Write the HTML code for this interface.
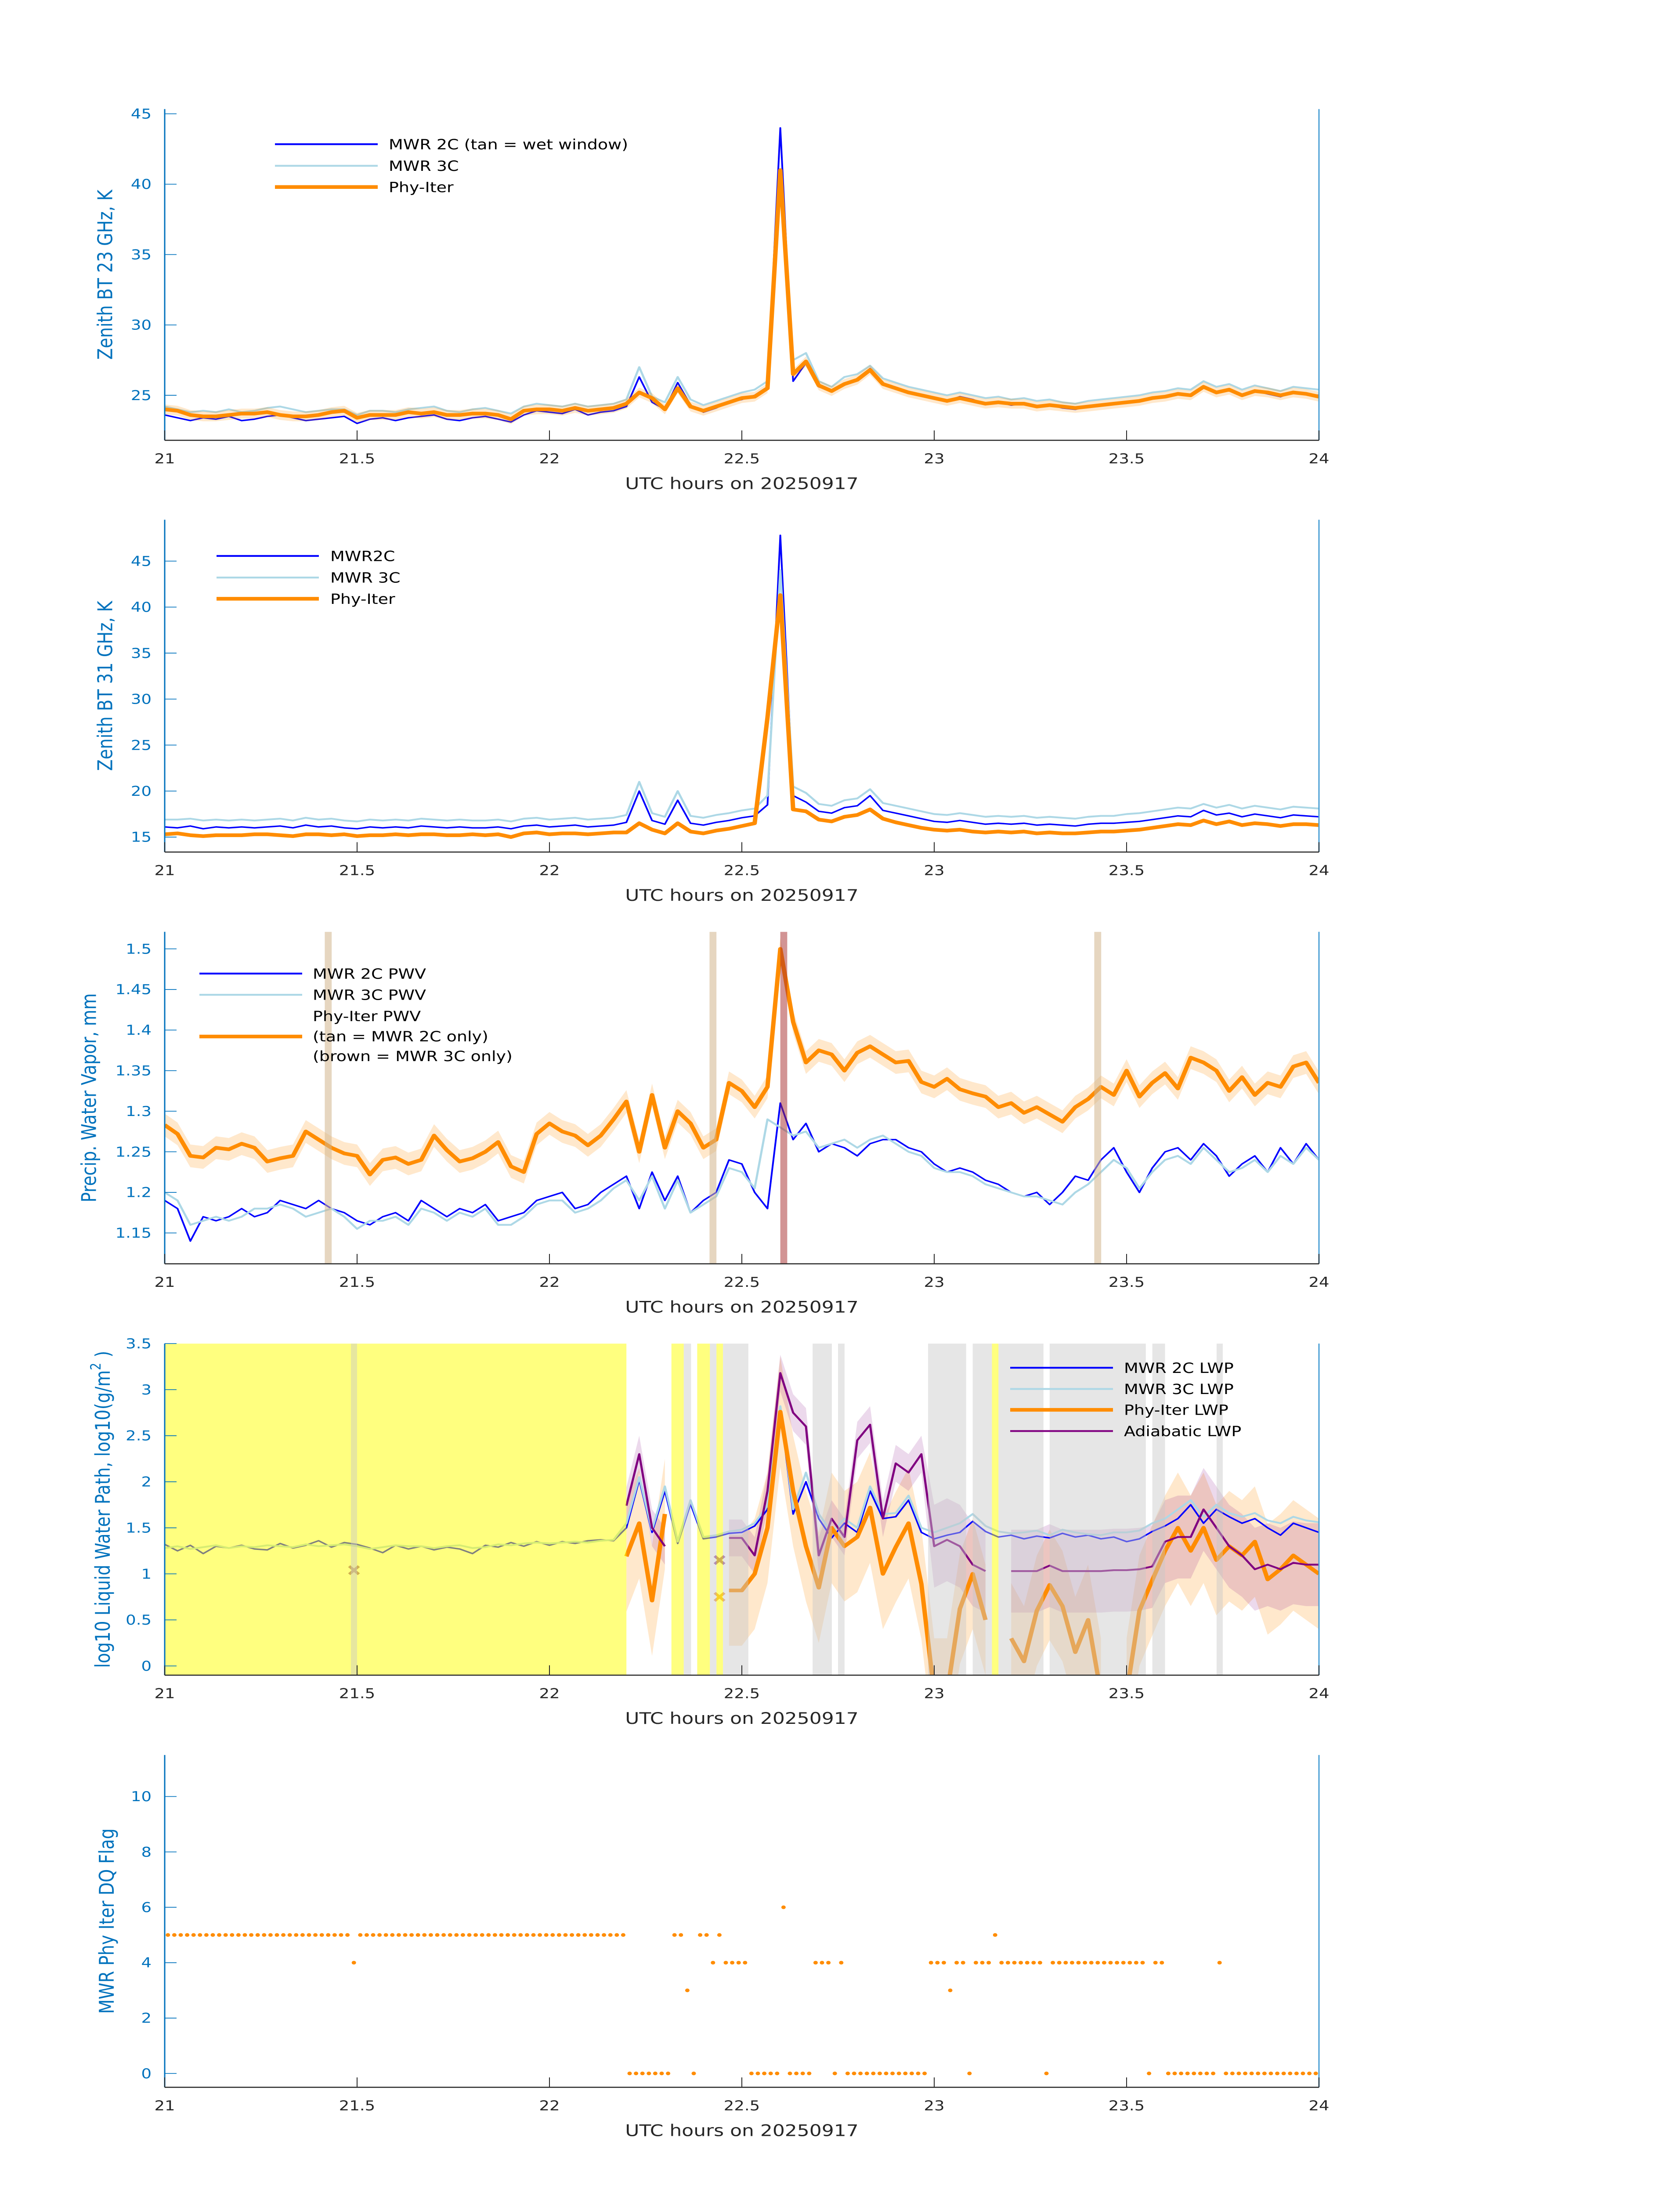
<!DOCTYPE html>
<html><head><meta charset="utf-8"><title>MWR retrievals 20250917</title>
<style>html,body{margin:0;padding:0;background:#fff;overflow:hidden}svg{display:block;width:100vw;height:100vh;font-family:"DejaVu Sans","Liberation Sans",sans-serif}</style>
</head><body>
<svg id="fig" xmlns="http://www.w3.org/2000/svg" viewBox="0 0 3825 6000" preserveAspectRatio="none">
<rect x="0" y="0" width="3825" height="6000" fill="#fff"/>
</svg>
<script>
// ---------- data (2-min samples from 21.0 to 24.0 UTC) ----------
const N_SAMPLES = 91;
const xTicks = [21, 21.5, 22, 22.5, 23, 23.5, 24];
const xTickLabels = ["21", "21.5", "22", "22.5", "23", "23.5", "24"];

const bt23_2c = [23.6,23.4,23.2,23.4,23.3,23.5,23.2,23.3,23.5,23.6,23.4,23.2,23.3,23.4,23.5,
23.0,23.3,23.4,23.2,23.4,23.5,23.6,23.3,23.2,23.4,23.5,23.3,23.1,23.6,23.9,
23.8,23.7,24.0,23.6,23.8,23.9,24.2,26.3,24.5,24.0,25.9,24.3,23.8,24.1,24.5,
24.7,25.0,25.6,44.0,26.0,27.3,25.6,25.3,25.8,26.1,26.9,25.8,25.5,25.2,25.0,
24.8,24.6,24.9,24.7,24.4,24.5,24.3,24.4,24.2,24.3,24.1,24.0,24.2,24.3,24.4,
24.5,24.6,24.8,24.9,25.1,25.0,25.6,25.2,25.4,25.0,25.3,25.1,24.9,25.2,25.1,25.0];
const bt23_3c = [24.2,24.0,23.8,23.9,23.8,24.0,23.8,23.9,24.1,24.2,24.0,23.8,23.9,24.0,24.0,
23.6,23.9,23.9,23.8,24.0,24.1,24.2,23.9,23.8,24.0,24.1,23.9,23.7,24.2,24.4,
24.3,24.2,24.4,24.2,24.3,24.4,24.7,27.0,24.9,24.5,26.3,24.7,24.3,24.6,24.9,
25.2,25.4,26.0,40.0,27.5,28.0,26.0,25.6,26.3,26.5,27.1,26.2,25.9,25.6,25.4,
25.2,25.0,25.2,25.0,24.8,24.9,24.7,24.8,24.6,24.7,24.5,24.4,24.6,24.7,24.8,
24.9,25.0,25.2,25.3,25.5,25.4,26.0,25.6,25.8,25.4,25.7,25.5,25.3,25.6,25.5,25.4];
const bt23_phy = [24.0,23.9,23.6,23.5,23.5,23.6,23.7,23.7,23.8,23.6,23.5,23.5,23.6,23.8,23.9,
23.4,23.6,23.6,23.6,23.8,23.7,23.8,23.6,23.6,23.7,23.7,23.6,23.3,23.9,24.0,
24.0,23.9,24.1,23.9,24.0,24.1,24.4,25.2,24.8,24.0,25.5,24.2,23.9,24.2,24.5,
24.8,24.9,25.5,41.0,26.5,27.4,25.7,25.3,25.8,26.1,26.8,25.8,25.5,25.2,25.0,
24.8,24.6,24.8,24.6,24.4,24.5,24.4,24.4,24.2,24.3,24.2,24.1,24.2,24.3,24.4,
24.5,24.6,24.8,24.9,25.1,25.0,25.6,25.2,25.4,25.0,25.3,25.2,25.0,25.2,25.1,24.9];

const bt31_2c = [16.1,16.0,16.2,15.9,16.1,16.0,16.1,16.0,16.1,16.2,16.0,16.3,16.1,16.2,16.0,
15.9,16.1,16.0,16.1,16.0,16.2,16.1,16.0,16.1,16.0,16.0,16.1,15.9,16.2,16.3,
16.1,16.2,16.3,16.1,16.2,16.3,16.6,20.0,16.8,16.4,19.0,16.5,16.3,16.6,16.8,
17.1,17.3,18.5,47.8,19.5,18.8,17.8,17.6,18.2,18.4,19.5,17.9,17.6,17.3,17.0,
16.7,16.6,16.8,16.6,16.4,16.5,16.4,16.5,16.3,16.4,16.3,16.2,16.4,16.5,16.5,
16.6,16.7,16.9,17.1,17.3,17.2,17.9,17.4,17.6,17.2,17.5,17.3,17.1,17.4,17.3,17.2];
const bt31_3c = [16.9,16.9,17.0,16.8,16.9,16.8,16.9,16.8,16.9,17.0,16.8,17.1,16.9,17.0,16.8,
16.7,16.9,16.8,16.9,16.8,17.0,16.9,16.8,16.9,16.8,16.8,16.9,16.7,17.0,17.1,
16.9,17.0,17.1,16.9,17.0,17.1,17.4,21.0,17.6,17.2,20.0,17.3,17.1,17.4,17.6,
17.9,18.1,19.5,44.0,20.5,19.8,18.6,18.4,19.0,19.2,20.2,18.7,18.4,18.1,17.8,
17.5,17.4,17.6,17.4,17.2,17.3,17.2,17.3,17.1,17.2,17.1,17.0,17.2,17.3,17.3,
17.5,17.6,17.8,18.0,18.2,18.1,18.6,18.2,18.5,18.1,18.4,18.2,18.0,18.3,18.2,18.1];
const bt31_phy = [15.3,15.4,15.2,15.1,15.2,15.2,15.2,15.3,15.3,15.2,15.1,15.3,15.3,15.2,15.3,
15.1,15.2,15.2,15.3,15.2,15.3,15.3,15.2,15.2,15.3,15.2,15.3,15.0,15.4,15.5,
15.3,15.4,15.4,15.3,15.4,15.5,15.5,16.5,15.8,15.4,16.5,15.6,15.4,15.7,15.9,
16.2,16.5,28.0,41.3,18.0,17.8,16.9,16.7,17.2,17.4,18.0,17.0,16.6,16.3,16.0,
15.8,15.7,15.8,15.6,15.5,15.6,15.5,15.6,15.4,15.5,15.4,15.4,15.5,15.6,15.6,
15.7,15.8,16.0,16.2,16.4,16.3,16.8,16.4,16.7,16.3,16.5,16.4,16.2,16.4,16.4,16.3];

const pwv_2c = [1.19,1.18,1.14,1.17,1.165,1.17,1.18,1.17,1.175,1.19,1.185,1.18,1.19,1.18,1.175,
1.165,1.16,1.17,1.175,1.165,1.19,1.18,1.17,1.18,1.175,1.185,1.165,1.17,1.175,1.19,
1.195,1.2,1.18,1.185,1.2,1.21,1.22,1.18,1.225,1.19,1.22,1.175,1.19,1.2,1.24,
1.235,1.2,1.18,1.31,1.265,1.285,1.25,1.26,1.255,1.245,1.26,1.265,1.265,1.255,1.25,
1.235,1.225,1.23,1.225,1.215,1.21,1.2,1.195,1.2,1.185,1.2,1.22,1.215,1.24,1.255,
1.225,1.2,1.23,1.25,1.255,1.24,1.26,1.245,1.22,1.235,1.245,1.225,1.255,1.235,1.26,1.24];
const pwv_3c = [1.2,1.19,1.16,1.165,1.17,1.165,1.17,1.18,1.18,1.185,1.18,1.17,1.175,1.18,1.17,
1.155,1.165,1.165,1.17,1.16,1.18,1.175,1.165,1.175,1.17,1.18,1.16,1.16,1.17,1.185,
1.19,1.19,1.175,1.18,1.19,1.205,1.215,1.19,1.22,1.18,1.215,1.175,1.185,1.195,1.23,
1.225,1.205,1.29,1.28,1.27,1.275,1.255,1.26,1.265,1.255,1.265,1.27,1.26,1.25,1.245,
1.23,1.225,1.225,1.22,1.21,1.205,1.2,1.195,1.195,1.19,1.185,1.2,1.21,1.225,1.24,
1.23,1.205,1.225,1.24,1.245,1.235,1.255,1.24,1.225,1.23,1.24,1.225,1.245,1.235,1.255,1.24];
const pwv_phy = [1.283,1.272,1.245,1.243,1.255,1.253,1.26,1.255,1.238,1.242,1.245,1.275,1.265,1.255,1.248,
1.245,1.222,1.24,1.243,1.235,1.24,1.27,1.252,1.238,1.242,1.25,1.262,1.232,1.225,1.272,
1.285,1.275,1.27,1.258,1.27,1.29,1.312,1.25,1.32,1.255,1.3,1.285,1.255,1.265,1.335,
1.325,1.305,1.33,1.5,1.41,1.36,1.375,1.37,1.35,1.372,1.38,1.37,1.36,1.362,1.336,
1.33,1.34,1.327,1.322,1.318,1.305,1.31,1.298,1.305,1.296,1.287,1.305,1.315,1.33,1.32,
1.35,1.318,1.335,1.347,1.328,1.366,1.36,1.35,1.325,1.342,1.32,1.335,1.33,1.355,1.36,1.335];
const pwvTanHours = [21.425, 22.425, 23.425];
const pwvBrownHours = [22.609];

const lwp_2c = [1.32,1.25,1.31,1.22,1.3,1.28,1.31,1.27,1.26,1.33,1.28,1.31,1.36,1.29,1.34,
1.32,1.28,1.23,1.31,1.27,1.30,1.26,1.29,1.27,1.22,1.31,1.29,1.34,1.30,1.35,
1.31,1.35,1.33,1.36,1.37,1.36,1.50,2.02,1.45,1.90,1.33,1.76,1.38,1.40,1.44,
1.45,1.52,1.70,2.79,1.65,2.0,1.60,1.39,1.55,1.45,1.90,1.60,1.62,1.80,1.45,
1.38,1.42,1.45,1.57,1.46,1.40,1.42,1.38,1.41,1.39,1.44,1.40,1.42,1.38,1.40,
1.35,1.38,1.46,1.52,1.60,1.75,1.55,1.70,1.62,1.55,1.60,1.50,1.42,1.55,1.50,1.45];
const lwp_3c = [1.28,1.30,1.27,1.29,1.31,1.28,1.30,1.29,1.31,1.30,1.29,1.32,1.30,1.31,1.32,
1.30,1.27,1.29,1.31,1.30,1.30,1.28,1.30,1.31,1.28,1.29,1.32,1.31,1.33,1.34,
1.33,1.34,1.35,1.34,1.36,1.37,1.55,2.05,1.48,1.95,1.35,1.80,1.40,1.42,1.46,
1.48,1.55,1.74,2.82,1.70,2.10,1.65,1.45,1.60,1.50,1.95,1.65,1.66,1.85,1.50,
1.45,1.50,1.55,1.65,1.52,1.46,1.44,1.45,1.47,1.42,1.48,1.45,1.43,1.42,1.45,
1.45,1.47,1.55,1.60,1.70,1.80,1.62,1.75,1.66,1.62,1.66,1.58,1.55,1.62,1.58,1.56];
const lwp_phy = [null,null,null,null,null,null,null,null,null,null,null,null,null,null,null,
null,null,null,null,null,null,null,null,null,null,null,null,null,null,null,
null,null,null,null,null,null,1.19,1.55,0.71,1.65,null,1.25,null,null,0.82,
0.82,1.0,1.5,2.76,1.9,1.3,0.85,1.5,1.3,1.4,1.72,1.0,1.29,1.55,0.89,
-0.3,-0.3,0.62,1.0,0.5,null,0.3,0.05,0.6,0.88,0.65,0.15,0.5,-0.3,null,
-0.3,0.6,0.93,1.25,1.5,1.25,1.5,1.15,1.3,1.2,1.35,0.94,1.05,1.2,1.1,1.0];
const lwp_adiab = [null,null,null,null,null,null,null,null,null,null,null,null,null,null,null,
null,null,null,null,null,null,null,null,null,null,null,null,null,null,null,
null,null,null,null,null,null,1.74,2.3,1.5,1.3,null,2.1,null,null,1.39,
1.39,1.2,1.9,3.18,2.75,2.6,1.2,1.6,1.4,2.45,2.62,1.6,2.2,2.1,2.3,
1.3,1.37,1.3,1.1,1.03,null,1.03,1.03,1.03,1.09,1.03,1.03,1.03,1.03,1.04,
1.04,1.05,1.08,1.35,1.4,1.4,1.7,1.5,1.3,1.2,1.05,1.1,1.05,1.12,1.1,1.1];
const lwpPhyUnc = 0.6;
const lwpAdiabUnc = 0.2;
const yellowSpans = [[21.0,22.2],[22.317,22.349],[22.384,22.417],[22.434,22.451],[23.15,23.167]];
const graySpans = [[21.484,21.5],[22.349,22.368],[22.417,22.434],[22.451,22.517],[22.684,22.734],[22.75,22.767],[22.984,23.083],[23.1,23.15],[23.167,23.284],[23.3,23.55],[23.567,23.6],[23.734,23.75]];
const xMarkHours = [21.492, 22.442, 22.442];
const xMarkVals = [1.04, 1.15, 0.75];

// DQ flag per minute (index i -> hour 21 + (i+0.5)/60), null = missing
const dqFlag = [5,5,5,5,5,5,5,5,5,5,5,5,5,5,5,5,5,5,5,5,5,5,5,5,5,5,5,5,5,4,
5,5,5,5,5,5,5,5,5,5,5,5,5,5,5,5,5,5,5,5,5,5,5,5,5,5,5,5,5,5,
5,5,5,5,5,5,5,5,5,5,5,5,0,0,0,0,0,0,0,5,5,3,0,5,5,4,5,4,4,4,
4,0,0,0,0,0,6,0,0,0,0,4,4,4,0,4,0,0,0,0,0,0,0,0,0,0,0,0,0,4,
4,4,3,4,4,0,4,4,4,5,4,4,4,4,4,4,4,0,4,4,4,4,4,4,4,4,4,4,4,4,
4,4,4,0,4,4,0,0,0,0,0,0,0,0,4,0,0,0,0,0,0,0,0,0,0,0,0,0,0,0];

// ---------- layout ----------
const X0 = 375, X1 = 3003;
const svg = document.getElementById('fig');
const NS = 'http://www.w3.org/2000/svg';
const sampleHours = Array.from({length: N_SAMPLES}, (_, i) => 21 + i / 30);
function xs(h){ return X0 + (h - 21) / 3 * (X1 - X0); }
function mk(tag, attrs, parent){
  const e = document.createElementNS(NS, tag);
  for (const k in attrs) e.setAttribute(k, attrs[k]);
  (parent || svg).appendChild(e);
  return e;
}
function makePanel(id, top, bottom, ymin, ymax){
  const g = mk('g', {});
  
  
  const cp = mk('clipPath', {id: 'clip-' + id}, g);
  mk('rect', {x: X0, y: top, width: X1 - X0, height: bottom - top}, cp);
  const plot = mk('g', {'clip-path': 'url(#clip-' + id + ')'}, g);
  
  
  return {g, plot, top, bottom, ymin, ymax, ys: v => bottom - (v - ymin) / (ymax - ymin) * (bottom - top)};
}
function pathD(P, hours, vals){
  let d = '', pen = false;
  for (let i = 0; i < vals.length; i++){
    if (vals[i] === null){ pen = false; continue; }
    d += (pen ? 'L' : 'M') + xs(hours[i]).toFixed(1) + ' ' + P.ys(vals[i]).toFixed(1);
    pen = true;
  }
  return d;
}
function drawLine(P, hours, vals, color, w, name){
  const p = mk('path', {d: pathD(P, hours, vals), fill: 'none', stroke: color, 'stroke-width': w, 'stroke-linejoin': 'round'}, P.plot);
  
  
}
function drawBand(P, hours, vals, unc, color, name){
  let seg = [];
  const segs = [];
  for (let i = 0; i < vals.length; i++){
    if (vals[i] === null){ if (seg.length) segs.push(seg); seg = []; continue; }
    seg.push(i);
  }
  if (seg.length) segs.push(seg);
  segs.forEach(s => {
    let d = '';
    s.forEach((i, k) => { d += (k ? 'L' : 'M') + xs(hours[i]).toFixed(1) + ' ' + P.ys(vals[i] + unc(i)).toFixed(1); });
    s.slice().reverse().forEach(i => { d += 'L' + xs(hours[i]).toFixed(1) + ' ' + P.ys(vals[i] - unc(i)).toFixed(1); });
    const p = mk('path', {d: d + 'Z', fill: color, stroke: 'none'}, P.plot);
    
    
  });
}
function drawSpan(P, h0, h1, color, name){
  const r = mk('rect', {x: xs(h0), y: P.top, width: xs(h1) - xs(h0), height: P.bottom - P.top, fill: color}, P.plot);
  
  
}
function drawAxes(P, yTicks, yLabelText, yLabelX, yFmt){
  const ax = mk('g', {}, P.g);
  
  
  const l1 = mk('line', {x1: X0, y1: P.top, x2: X0, y2: P.bottom, stroke: '#0072BD', 'stroke-width': 3}, ax);
  
  
  const l2 = mk('line', {x1: X1, y1: P.top, x2: X1, y2: P.bottom, stroke: '#4a9fd5', 'stroke-width': 3}, ax);
  
  
  const l3 = mk('line', {x1: X0, y1: P.bottom, x2: X1, y2: P.bottom, stroke: '#262626', 'stroke-width': 3}, ax);
  
  
  xTicks.forEach((h, i) => {
    const t = mk('line', {x1: xs(h), y1: P.bottom, x2: xs(h), y2: P.bottom - 27, stroke: '#262626', 'stroke-width': 2}, ax);
    
    
    const tl = mk('text', {x: xs(h), y: P.bottom + 63, 'text-anchor': 'middle', 'font-size': 37, fill: '#262626'}, ax);
    tl.textContent = xTickLabels[i];
    
    
  });
  yTicks.forEach(v => {
    const y = P.ys(v);
    const t = mk('line', {x1: X0, y1: y, x2: X0 + 27, y2: y, stroke: '#0072BD', 'stroke-width': 2}, ax);
    
    
    const tl = mk('text', {x: X0 - 30, y: y + 13, 'text-anchor': 'end', 'font-size': 37, fill: '#0072BD'}, ax);
    tl.textContent = yFmt ? yFmt(v) : String(v);
    
    
  });
  const xl = mk('text', {x: (X0 + X1) / 2, y: P.bottom + 133, 'text-anchor': 'middle', 'font-size': 44, fill: '#262626'}, ax);
  xl.textContent = 'UTC hours on 20250917';
  
  
  const cy = (P.top + P.bottom) / 2;
  const yl = mk('text', {x: yLabelX, y: cy, 'text-anchor': 'middle', 'font-size': 46, fill: '#0072BD', transform: 'rotate(-90 ' + yLabelX + ' ' + cy + ')', 'dominant-baseline': 'central'}, ax);
  yl.innerHTML = yLabelText;
  
  
}
function legend(P, x0, x1, tx, rows){
  const lg = mk('g', {}, P.g);
  
  
  rows.forEach(r => {
    if (r.color){
      const ln = mk('line', {x1: x0, y1: r.ly, x2: x1, y2: r.ly, stroke: r.color, 'stroke-width': r.w}, lg);
      
      
    }
    if (r.text){
      const t = mk('text', {x: tx, y: r.ty + 14, 'font-size': 38, fill: '#000'}, lg);
      t.textContent = r.text;
      
      
    }
  });
}
const ORANGE = '#ff8c00', BLUE = '#0000ff', LBLUE = '#add8e6', PURPLE = '#800080';

// ---------- panel 1 ----------
const P1 = makePanel('bt23-panel', 298, 1203, 21.8, 45.34);
drawLine(P1, sampleHours, bt23_2c, BLUE, 4, 'mwr2c-bt23-line');
drawLine(P1, sampleHours, bt23_3c, LBLUE, 5, 'mwr3c-bt23-line');
drawBand(P1, sampleHours, bt23_phy, () => 0.35, 'rgba(255,140,0,0.2)', 'phy-iter-bt23-band');
drawLine(P1, sampleHours, bt23_phy, ORANGE, 10, 'phy-iter-bt23-line');
drawAxes(P1, [25,30,35,40,45], 'Zenith BT 23 GHz, K', 240);
legend(P1, 626, 860, 885, [{color: BLUE, w: 5, ly: 394, ty: 394, text: 'MWR 2C (tan = wet window)'},
  {color: LBLUE, w: 5, ly: 453, ty: 453, text: 'MWR 3C'},
  {color: ORANGE, w: 10, ly: 511, ty: 511, text: 'Phy-Iter'}]);

// ---------- panel 2 ----------
const P2 = makePanel('bt31-panel', 1420, 2328, 13.37, 49.5);
drawLine(P2, sampleHours, bt31_2c, BLUE, 4, 'mwr2c-bt31-line');
drawLine(P2, sampleHours, bt31_3c, LBLUE, 5, 'mwr3c-bt31-line');
drawBand(P2, sampleHours, bt31_phy, () => 0.2, 'rgba(255,140,0,0.2)', 'phy-iter-bt31-band');
drawLine(P2, sampleHours, bt31_phy, ORANGE, 10, 'phy-iter-bt31-line');
drawAxes(P2, [15,20,25,30,35,40,45], 'Zenith BT 31 GHz, K', 240);
legend(P2, 493, 726, 752, [{color: BLUE, w: 5, ly: 1519, ty: 1519, text: 'MWR2C'},
  {color: LBLUE, w: 5, ly: 1578, ty: 1578, text: 'MWR 3C'},
  {color: ORANGE, w: 10, ly: 1636, ty: 1636, text: 'Phy-Iter'}]);

// ---------- panel 3 ----------
const P3 = makePanel('pwv-panel', 2546, 3453, 1.112, 1.521);
drawLine(P3, sampleHours, pwv_2c, BLUE, 4, 'mwr2c-pwv-line');
drawLine(P3, sampleHours, pwv_3c, LBLUE, 5, 'mwr3c-pwv-line');
drawBand(P3, sampleHours, pwv_phy, () => 0.014, 'rgba(255,140,0,0.2)', 'phy-iter-pwv-band');
drawLine(P3, sampleHours, pwv_phy, ORANGE, 10, 'phy-iter-pwv-line');
pwvTanHours.forEach(h => drawSpan(P3, h - 0.009, h + 0.009, 'rgba(210,180,140,0.55)', 'tan-mwr2c-only-span'));
pwvBrownHours.forEach(h => drawSpan(P3, h - 0.009, h + 0.009, 'rgba(165,42,42,0.5)', 'brown-mwr3c-only-span'));
drawAxes(P3, [1.15,1.2,1.25,1.3,1.35,1.4,1.45,1.5], 'Precip. Water Vapor, mm', 203);
legend(P3, 454, 688, 712, [{color: BLUE, w: 5, ly: 2660, ty: 2660, text: 'MWR 2C PWV'},
  {color: LBLUE, w: 5, ly: 2718, ty: 2718, text: 'MWR 3C PWV'},
  {ty: 2776, text: 'Phy-Iter PWV'},
  {color: ORANGE, w: 10, ly: 2832, ty: 2831, text: '(tan = MWR 2C only)'},
  {ty: 2885, text: '(brown = MWR 3C only)'}]);

// ---------- panel 4 ----------
const P4 = makePanel('lwp-panel', 3671, 4577, -0.1, 3.5);
drawBand(P4, sampleHours, lwp_phy, () => lwpPhyUnc, 'rgba(255,140,0,0.2)', 'phy-iter-lwp-band');
drawBand(P4, sampleHours, lwp_adiab, i => sampleHours[i] >= 23.0 ? 0.45 : lwpAdiabUnc, 'rgba(128,0,128,0.15)', 'adiabatic-lwp-band');
drawLine(P4, sampleHours, lwp_2c, BLUE, 4, 'mwr2c-lwp-line');
drawLine(P4, sampleHours, lwp_3c, LBLUE, 5, 'mwr3c-lwp-line');
drawLine(P4, sampleHours, lwp_phy, ORANGE, 10, 'phy-iter-lwp-line');
drawLine(P4, sampleHours, lwp_adiab, PURPLE, 5, 'adiabatic-lwp-line');
xMarkHours.forEach((h, i) => {
  const x = xs(h), y = P4.ys(xMarkVals[i]);
  const m = mk('path', {d: `M${x-11} ${y-11}L${x+11} ${y+11}M${x-11} ${y+11}L${x+11} ${y-11}`, stroke: i === 2 ? '#f0a050' : '#a060a0', 'stroke-width': 7}, P4.plot);
  
  
});
yellowSpans.forEach(s => drawSpan(P4, s[0], s[1], 'rgba(255,255,0,0.5)', 'yellow-flag-span'));
graySpans.forEach(s => drawSpan(P4, s[0], s[1], 'rgba(200,200,200,0.45)', 'gray-flag-span'));
drawAxes(P4, [0,0.5,1,1.5,2,2.5,3,3.5], 'log10 Liquid Water Path, log10(g/m<tspan dy="-16" font-size="32">2</tspan><tspan dy="16"> )</tspan>', 234);
legend(P4, 2300, 2534, 2559, [{color: BLUE, w: 5, ly: 3737, ty: 3737, text: 'MWR 2C LWP'},
  {color: LBLUE, w: 5, ly: 3795, ty: 3795, text: 'MWR 3C LWP'},
  {color: ORANGE, w: 10, ly: 3852, ty: 3852, text: 'Phy-Iter LWP'},
  {color: PURPLE, w: 5, ly: 3910, ty: 3910, text: 'Adiabatic LWP'}]);

// ---------- panel 5 ----------
const P5 = makePanel('dq-flag-panel', 4795, 5703, -0.5, 11.5);
dqFlag.forEach((f, i) => {
  if (f === null) return;
  const c = mk('circle', {cx: xs(21 + (i + 0.5) / 60), cy: P5.ys(f), r: 5, fill: ORANGE}, P5.plot);
  
  
});
drawAxes(P5, [0,2,4,6,8,10], 'MWR Phy Iter DQ Flag', 243);
</script>
</body></html>
